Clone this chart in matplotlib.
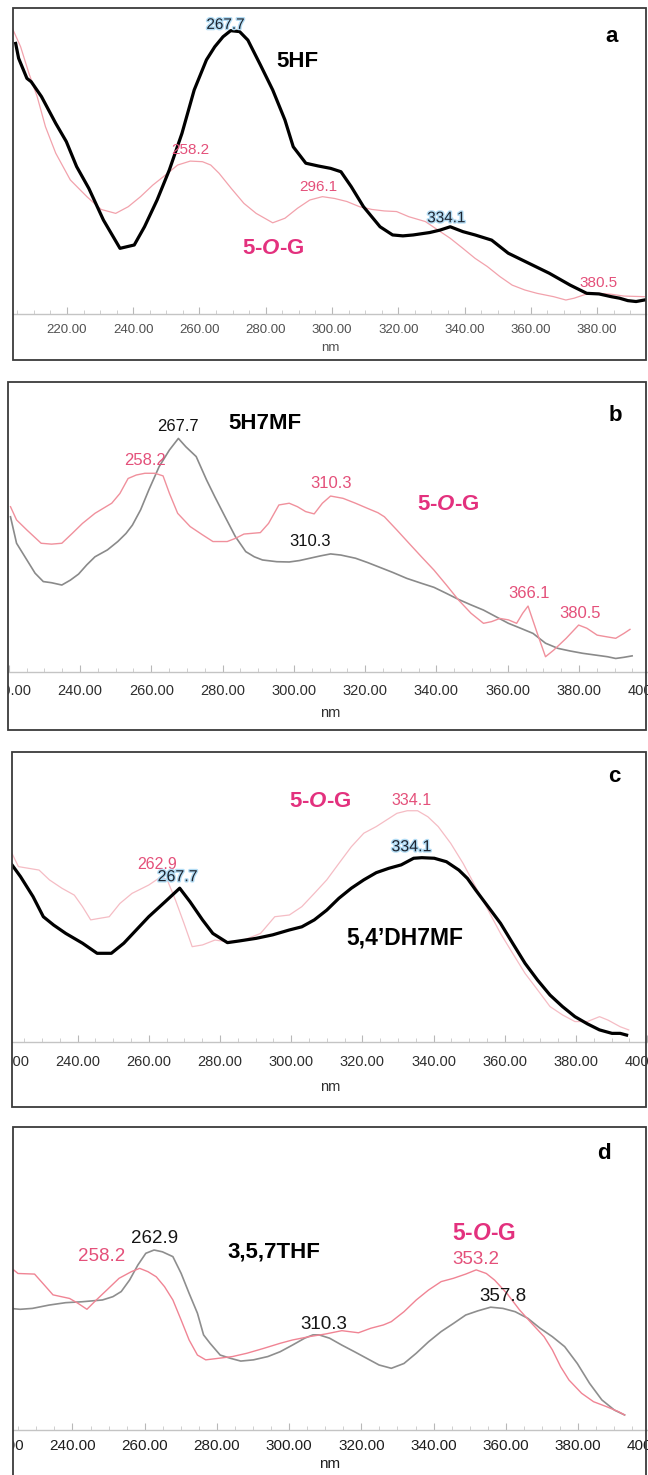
import matplotlib
matplotlib.use("Agg")
import matplotlib.pyplot as plt
from matplotlib.patches import Rectangle
from matplotlib.ticker import MultipleLocator, FormatStrFormatter
import matplotlib.patheffects as pe

plt.rcParams['font.family'] = ['Liberation Sans', 'DejaVu Sans']
plt.rcParams['mathtext.fontset'] = 'custom'
plt.rcParams['mathtext.it'] = 'Liberation Sans:italic:bold'
plt.rcParams['mathtext.rm'] = 'Liberation Sans:bold'
plt.rcParams['mathtext.bf'] = 'Liberation Sans:bold'

# ---------------- data (wavelength nm, relative absorbance) ----------------
# panel a : 5HF (black) and 5-O-G (pink)
a_black_nm = [204.5, 205.4, 207.9, 209.2, 212.3, 216.6, 219.8, 222.9, 226.6, 231.0, 236.0, 240.3,
              243.4, 247.2, 250.9, 254.7, 258.4, 262.1, 264.6, 267.1, 269.4, 272.1, 274.6, 278.4,
              282.1, 285.8, 288.3, 292.1, 295.8, 299.6, 302.7, 305.8, 309.5, 314.5, 318.3, 321.4,
              324.5, 329.5, 332.6, 335.7, 339.5, 343.2, 348.2, 353.2, 359.4, 365.6, 371.9, 376.9,
              380.6, 384.3, 386.8, 389.3, 391.8, 394.3]
a_black_abs = [0.890, 0.841, 0.775, 0.764, 0.715, 0.627, 0.567, 0.485, 0.413, 0.309, 0.216, 0.227,
               0.287, 0.375, 0.474, 0.594, 0.737, 0.836, 0.879, 0.912, 0.932, 0.929, 0.901, 0.819,
               0.737, 0.638, 0.550, 0.496, 0.487, 0.479, 0.468, 0.419, 0.353, 0.287, 0.260, 0.257,
               0.260, 0.268, 0.276, 0.287, 0.271, 0.260, 0.243, 0.200, 0.167, 0.134, 0.095, 0.068,
               0.066, 0.057, 0.052, 0.044, 0.041, 0.046]
a_pink_nm = [203.5, 206.0, 208.5, 211.0, 213.5, 216.6, 221.0, 226.0, 230.3, 234.7, 238.5, 242.2,
             245.9, 249.7, 253.4, 257.2, 260.9, 263.4, 265.9, 269.6, 273.4, 277.1, 282.1, 285.8,
             289.6, 293.3, 297.1, 300.8, 304.5, 308.3, 312.0, 315.8, 319.5, 323.2, 328.2, 332.0,
             335.7, 339.5, 343.2, 346.9, 350.7, 354.4, 358.2, 361.9, 366.9, 370.6, 373.1, 376.9,
             380.6, 384.3, 388.1, 394.3]
a_pink_abs = [0.940, 0.879, 0.792, 0.715, 0.616, 0.529, 0.441, 0.386, 0.344, 0.331, 0.353, 0.386,
              0.424, 0.457, 0.490, 0.503, 0.501, 0.490, 0.463, 0.413, 0.364, 0.331, 0.300, 0.315,
              0.348, 0.375, 0.386, 0.380, 0.370, 0.353, 0.344, 0.339, 0.337, 0.320, 0.304, 0.276,
              0.249, 0.216, 0.183, 0.156, 0.123, 0.095, 0.079, 0.068, 0.057, 0.046, 0.052, 0.066,
              0.068, 0.065, 0.059, 0.057]

# panel b : 5H7MF (grey) and 5-O-G (pink)
b_grey_nm = [220.5, 222.2, 225.1, 227.4, 229.7, 232.0, 234.9, 237.3, 239.6, 241.9, 244.2, 247.7,
             250.6, 252.9, 254.7, 257.0, 259.3, 262.2, 265.1, 267.6, 269.7, 272.6, 275.5, 277.8,
             280.7, 283.6, 286.5, 288.9, 291.2, 295.2, 298.7, 301.6, 304.5, 307.4, 310.3, 313.2,
             317.3, 320.7, 324.2, 327.7, 331.7, 335.8, 339.3, 342.8, 346.2, 349.7, 353.2, 356.7,
             360.2, 363.6, 367.1, 370.6, 374.1, 377.5, 381.0, 384.5, 388.0, 390.3, 392.6, 394.9]
b_grey_abs = [0.539, 0.447, 0.389, 0.343, 0.314, 0.310, 0.302, 0.319, 0.340, 0.372, 0.400, 0.424,
              0.453, 0.481, 0.510, 0.563, 0.632, 0.713, 0.771, 0.811, 0.782, 0.748, 0.667, 0.609,
              0.539, 0.470, 0.418, 0.400, 0.389, 0.383, 0.382, 0.387, 0.395, 0.403, 0.410, 0.406,
              0.395, 0.380, 0.363, 0.346, 0.325, 0.308, 0.294, 0.273, 0.252, 0.233, 0.215, 0.192,
              0.169, 0.152, 0.134, 0.100, 0.082, 0.073, 0.065, 0.059, 0.053, 0.047, 0.051, 0.056]
b_pink_nm = [220.5, 222.2, 225.1, 229.1, 232.0, 234.9, 237.8, 240.7, 244.2, 248.9, 251.2, 253.5,
             255.8, 258.2, 261.0, 263.3, 265.1, 267.4, 270.9, 274.4, 277.3, 281.3, 283.6, 286.0,
             290.6, 292.9, 295.8, 298.7, 301.0, 303.3, 305.7, 308.0, 310.3, 313.8, 317.3, 320.7,
             323.6, 325.4, 328.9, 332.3, 335.8, 339.3, 342.8, 346.2, 349.7, 353.2, 355.5, 357.8,
             360.2, 362.5, 364.2, 365.7, 368.3, 370.6, 372.9, 376.4, 379.9, 382.2, 385.1, 387.4,
             390.3, 392.6, 394.3]
b_pink_abs = [0.574, 0.528, 0.493, 0.447, 0.444, 0.447, 0.481, 0.516, 0.551, 0.586, 0.620, 0.672,
              0.684, 0.690, 0.690, 0.681, 0.620, 0.551, 0.505, 0.476, 0.453, 0.453, 0.464, 0.479,
              0.484, 0.516, 0.580, 0.586, 0.574, 0.557, 0.549, 0.586, 0.611, 0.603, 0.586, 0.568,
              0.553, 0.539, 0.493, 0.447, 0.400, 0.354, 0.302, 0.250, 0.204, 0.169, 0.175, 0.186,
              0.181, 0.169, 0.204, 0.229, 0.134, 0.053, 0.076, 0.117, 0.163, 0.152, 0.128, 0.123,
              0.117, 0.134, 0.148]

# panel c : 5,4'DH7MF (black) and 5-O-G (pink)
c_black_nm = [221.6, 224.0, 227.5, 230.4, 233.3, 236.7, 241.4, 245.5, 249.5, 253.0, 256.5, 260.0,
              264.6, 268.7, 271.6, 275.1, 278.0, 282.1, 285.5, 290.2, 294.8, 299.5, 303.0, 306.5,
              310.0, 313.4, 316.9, 320.4, 323.9, 327.4, 330.9, 334.4, 336.7, 340.2, 343.6, 347.1,
              349.5, 351.8, 355.3, 358.8, 362.2, 365.7, 369.2, 372.7, 376.2, 379.7, 383.2, 386.6,
              390.1, 392.4, 394.2]
c_black_abs = [0.615, 0.574, 0.505, 0.435, 0.406, 0.377, 0.343, 0.308, 0.308, 0.343, 0.389, 0.435,
               0.487, 0.534, 0.487, 0.424, 0.377, 0.345, 0.351, 0.360, 0.372, 0.389, 0.400, 0.424,
               0.458, 0.499, 0.534, 0.563, 0.588, 0.603, 0.615, 0.638, 0.640, 0.638, 0.626, 0.597,
               0.568, 0.528, 0.470, 0.412, 0.343, 0.273, 0.215, 0.163, 0.123, 0.088, 0.063, 0.042,
               0.030, 0.030, 0.024]
c_pink_nm = [221.6, 223.4, 229.2, 232.1, 235.6, 239.1, 241.4, 243.7, 246.0, 248.9, 251.9, 255.3,
             260.0, 263.5, 265.2, 267.5, 269.9, 272.2, 275.1, 278.6, 282.1, 286.7, 291.4, 295.4,
             299.5, 303.0, 306.5, 310.0, 313.4, 316.9, 320.4, 323.9, 326.8, 329.7, 332.6, 335.5,
             338.4, 341.3, 344.8, 348.3, 351.8, 355.3, 358.8, 362.2, 365.7, 369.2, 372.7, 376.2,
             379.7, 383.2, 386.6, 389.0, 392.4, 394.8]
c_pink_abs = [0.655, 0.609, 0.597, 0.563, 0.534, 0.510, 0.470, 0.424, 0.429, 0.435, 0.481, 0.516,
              0.545, 0.574, 0.563, 0.493, 0.412, 0.331, 0.337, 0.354, 0.348, 0.354, 0.377, 0.435,
              0.441, 0.470, 0.516, 0.563, 0.620, 0.678, 0.725, 0.748, 0.771, 0.794, 0.803, 0.803,
              0.782, 0.748, 0.690, 0.620, 0.539, 0.458, 0.377, 0.308, 0.238, 0.181, 0.123, 0.094,
              0.071, 0.071, 0.088, 0.076, 0.053, 0.042]

# panel d : 3,5,7THF (grey) and 5-O-G (pink)
d_grey_nm = [222.6, 225.5, 228.9, 233.5, 238.1, 242.6, 248.3, 251.2, 253.5, 255.8, 258.1, 260.3,
             262.6, 264.9, 267.8, 270.1, 272.3, 274.6, 276.3, 278.1, 280.9, 283.8, 286.6, 290.1,
             294.1, 297.5, 300.9, 304.3, 306.6, 308.3, 311.2, 314.6, 318.1, 321.5, 324.9, 328.3,
             331.8, 335.2, 338.6, 342.1, 345.5, 348.9, 352.3, 355.8, 359.2, 362.6, 366.1, 369.5,
             372.9, 376.3, 379.8, 383.2, 386.6, 390.1, 392.9]
d_grey_abs = [0.404, 0.401, 0.404, 0.415, 0.423, 0.426, 0.432, 0.443, 0.460, 0.498, 0.548, 0.587,
              0.598, 0.592, 0.576, 0.520, 0.454, 0.388, 0.316, 0.288, 0.249, 0.238, 0.229, 0.233,
              0.244, 0.260, 0.282, 0.305, 0.316, 0.316, 0.305, 0.282, 0.260, 0.238, 0.216, 0.205,
              0.221, 0.255, 0.293, 0.327, 0.354, 0.382, 0.396, 0.408, 0.404, 0.393, 0.371, 0.338,
              0.310, 0.277, 0.221, 0.155, 0.100, 0.066, 0.050]
d_pink_nm = [222.6, 224.9, 229.5, 231.8, 234.6, 239.2, 241.5, 244.0, 246.6, 249.5, 252.9, 256.3,
             258.6, 260.9, 263.2, 265.5, 267.8, 270.1, 272.3, 274.6, 276.9, 280.3, 284.3, 288.3,
             292.9, 297.5, 300.9, 305.5, 310.1, 314.6, 319.2, 322.6, 326.1, 328.3, 331.8, 335.2,
             338.6, 342.1, 345.5, 348.9, 351.8, 354.6, 356.9, 360.3, 363.8, 367.2, 370.6, 372.9,
             375.2, 377.5, 381.0, 384.3, 387.8, 391.2, 392.9]
d_pink_abs = [0.543, 0.520, 0.518, 0.487, 0.449, 0.437, 0.421, 0.401, 0.432, 0.465, 0.504, 0.526,
              0.537, 0.526, 0.509, 0.476, 0.432, 0.365, 0.299, 0.249, 0.233, 0.238, 0.244, 0.255,
              0.271, 0.288, 0.299, 0.310, 0.319, 0.330, 0.323, 0.338, 0.349, 0.360, 0.393, 0.432,
              0.465, 0.493, 0.504, 0.518, 0.532, 0.520, 0.498, 0.454, 0.399, 0.354, 0.310, 0.266,
              0.210, 0.166, 0.122, 0.094, 0.078, 0.061, 0.050]

tick_step = 20

# ---------------- styling / layout ----------------
W, H = 648, 1475
fig = plt.figure(figsize=(W / 100, H / 100), dpi=100)
fig.patch.set_facecolor('white')

PINK_TXT = '#e4507a'
MAGENTA = '#e3317e'
BLUE_GLOW = [pe.withStroke(linewidth=2.0, foreground='#b3dcf4')]
DARK_GLOW_TXT = '#1c2430'


def fx(px):
    return px / W


def fy(py):
    return 1 - py / H


def make_panel(left, right, axis_y, top, xlim, frame, tsize, tcolor, pad, nm_off):
    ax = fig.add_axes([fx(left), fy(axis_y), (right - left) / W, (axis_y - top) / H])
    ax.set_xlim(*xlim)
    ax.set_ylim(0, 1)
    ax.patch.set_alpha(0)
    for s in ('top', 'left', 'right'):
        ax.spines[s].set_visible(False)
    ax.spines['bottom'].set_color('#c4c4c4')
    ax.spines['bottom'].set_linewidth(1.0)
    ax.yaxis.set_visible(False)
    ax.xaxis.set_major_locator(MultipleLocator(tick_step))
    ax.xaxis.set_minor_locator(MultipleLocator(5))
    ax.xaxis.set_major_formatter(FormatStrFormatter('%.2f'))
    ax.tick_params(axis='x', which='major', direction='in', length=5, width=0.8,
                   color='#b8b8b8', labelsize=tsize, labelcolor=tcolor, pad=pad)
    ax.tick_params(axis='x', which='minor', direction='in', length=3, width=0.6, color='#c8c8c8')
    ax.set_xlabel('nm', fontsize=tsize, color=tcolor)
    ax.xaxis.set_label_coords((330 - left) / (right - left), -nm_off / (axis_y - top))
    ax.xaxis.label.set_va('center')
    # white mask left of the frame, then the frame
    fl, ft, fr, fb = frame
    fig.add_artist(Rectangle((0, fy(fb + 2)), fx(fl), (fb + 2 - ft + 4) / H, transform=fig.transFigure,
                             facecolor='white', edgecolor='none', zorder=20))
    fig.add_artist(Rectangle((fx(fl), fy(fb)), (fr - fl) / W, (fb - ft) / H, transform=fig.transFigure,
                             facecolor='none', edgecolor='#3a3a3a', linewidth=1.3, zorder=21))
    return ax


# ---------- panel a ----------
ax = make_panel(13, 646, 314, 10, (203.70, 394.79), (13, 8, 646, 360), 9.5, '#505050', 7.5, 34)
ax.plot(a_pink_nm, a_pink_abs, color='#f2a2ac', lw=0.9)
ax.plot(a_black_nm, a_black_abs, color='black', lw=2.3)
ax.text(267.8, 0.951, '267.7', fontsize=11, color=DARK_GLOW_TXT, ha='center', va='center', path_effects=BLUE_GLOW)
ax.text(289.6, 0.830, '5HF', fontsize=16, fontweight='bold', color='black', ha='center', va='center')
ax.text(257.2, 0.539, '258.2', fontsize=11, color=PINK_TXT, ha='center', va='center')
ax.text(295.8, 0.419, '296.1', fontsize=11, color=PINK_TXT, ha='center', va='center')
ax.text(334.5, 0.315, '334.1', fontsize=11, color=DARK_GLOW_TXT, ha='center', va='center', path_effects=BLUE_GLOW)
ax.text(380.6, 0.101, '380.5', fontsize=11, color=PINK_TXT, ha='center', va='center')
ax.text(282.1, 0.216, r'5-$\mathit{O}$-G', fontsize=16, fontweight='bold', color=MAGENTA, ha='center', va='center')
ax.text(384.3, 0.912, 'a', fontsize=16, fontweight='bold', color='black', ha='center', va='center')

# ---------- panel b ----------
ax = make_panel(8, 652, 672, 384, (219.80, 400.48), (8, 382, 646, 730), 10.5, '#2e2e2e', 8.5, 41)
ax.plot(b_grey_nm, b_grey_abs, color='#8a8a8a', lw=1.2)
ax.plot(b_pink_nm, b_pink_abs, color='#f0909c', lw=1.0)
ax.text(267.6, 0.852, '267.7', fontsize=12, color='#111111', ha='center', va='center')
ax.text(291.8, 0.863, '5H7MF', fontsize=16, fontweight='bold', color='black', ha='center', va='center')
ax.text(258.1, 0.736, '258.2', fontsize=12, color=PINK_TXT, ha='center', va='center')
ax.text(310.3, 0.655, '310.3', fontsize=12, color=PINK_TXT, ha='center', va='center')
ax.text(343.4, 0.580, r'5-$\mathit{O}$-G', fontsize=16, fontweight='bold', color=MAGENTA, ha='center', va='center')
ax.text(304.5, 0.453, '310.3', fontsize=12, color='#111111', ha='center', va='center')
ax.text(366.0, 0.273, '366.1', fontsize=12, color=PINK_TXT, ha='center', va='center')
ax.text(380.4, 0.204, '380.5', fontsize=12, color=PINK_TXT, ha='center', va='center')
ax.text(390.3, 0.892, 'b', fontsize=16, fontweight='bold', color='black', ha='center', va='center')

# ---------- panel c ----------
ax = make_panel(0, 652, 1042, 754, (218.23, 401.34), (12, 752, 646, 1107), 10.5, '#2e2e2e', 9.5, 45)
ax.plot(c_pink_nm, c_pink_abs, color='#f5bcc4', lw=0.9)
ax.plot(c_black_nm, c_black_abs, color='black', lw=2.3)
ax.text(390.7, 0.921, 'c', fontsize=16, fontweight='bold', color='black', ha='center', va='center')
ax.text(308.2, 0.834, r'5-$\mathit{O}$-G', fontsize=16, fontweight='bold', color=MAGENTA, ha='center', va='center')
ax.text(333.8, 0.840, '334.1', fontsize=11.5, color=PINK_TXT, ha='center', va='center')
ax.text(333.8, 0.678, '334.1', fontsize=11.5, color=DARK_GLOW_TXT, ha='center', va='center', path_effects=BLUE_GLOW)
ax.text(262.3, 0.618, '262.9', fontsize=11.5, color=PINK_TXT, ha='center', va='center')
ax.text(268.1, 0.574, '267.7', fontsize=11.5, color=DARK_GLOW_TXT, ha='center', va='center', path_effects=BLUE_GLOW)
ax.text(332.0, 0.360, '5,4\u2019DH7MF', fontsize=16.5, fontweight='bold', color='black', ha='center', va='center')

# ---------- panel d ----------
ax = make_panel(-5, 652, 1430, 1129, (218.54, 400.49), (13, 1127, 646, 1490), 11, '#1e1e1e', 6.5, 34)
ax.plot(d_grey_nm, d_grey_abs, color='#8e8e8e', lw=1.2)
ax.plot(d_pink_nm, d_pink_abs, color='#f08494', lw=1.0)
ax.text(387.2, 0.919, 'd', fontsize=16, fontweight='bold', color='black', ha='center', va='center')
ax.text(262.6, 0.637, '262.9', fontsize=13.5, color='#151515', ha='center', va='center')
ax.text(248.1, 0.576, '258.2', fontsize=13.5, color=PINK_TXT, ha='center', va='center')
ax.text(295.8, 0.592, '3,5,7THF', fontsize=16, fontweight='bold', color='black', ha='center', va='center')
ax.text(354.1, 0.653, r'5-$\mathit{O}$-G', fontsize=16.5, fontweight='bold', color=MAGENTA, ha='center', va='center')
ax.text(351.8, 0.565, '353.2', fontsize=13.5, color=PINK_TXT, ha='center', va='center')
ax.text(359.2, 0.443, '357.8', fontsize=13.5, color='#151515', ha='center', va='center')
ax.text(309.5, 0.349, '310.3', fontsize=13.5, color='#151515', ha='center', va='center')

fig.savefig('out.png', dpi=100, facecolor='white')
